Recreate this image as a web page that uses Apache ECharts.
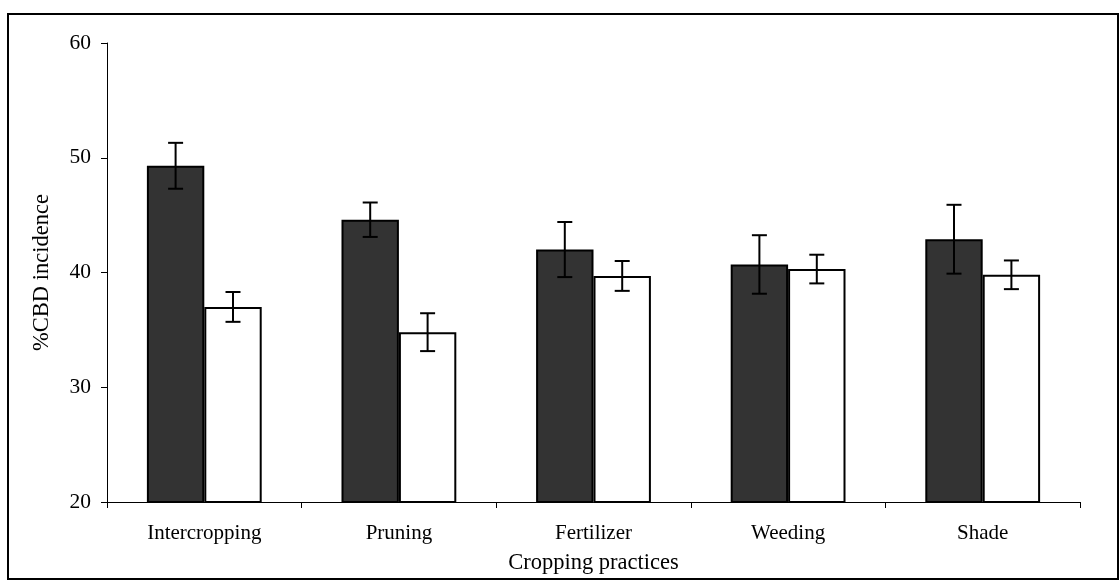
<!DOCTYPE html>
<html>
<head>
<meta charset="utf-8">
<script src="https://cdn.jsdelivr.net/npm/echarts@6/dist/echarts.min.js"></script>
<style>
  html, body { margin: 0; padding: 0; background: #fff; }
  #chart { width: 1120px; height: 580px; }
</style>
</head>
<body>
<div id="chart"></div>
<script>
// Cropping practices and % CBD incidence (two groups, with error bars)
const categories = ['Intercropping', 'Pruning', 'Fertilizer', 'Weeding', 'Shade'];
const darkValues = [49.3, 44.6, 42.0, 40.7, 42.9];
const darkErrors = [2.0, 1.5, 2.4, 2.55, 3.0];
const lightValues = [37.0, 34.8, 39.7, 40.3, 39.8];
const lightErrors = [1.3, 1.65, 1.3, 1.25, 1.25];
const yTicks = [20, 30, 40, 50, 60];

const FONT = '"Liberation Serif", "Times New Roman", serif';
const GAP_RATIO = 0.41;

function errorData(values, errors) {
  return values.map((v, i) => [i, v - errors[i], v + errors[i]]);
}

// draws a vertical whisker with caps, shifted onto the matching bar
function errorRenderer(side) {
  return function (params, api) {
    const idx = api.value(0);
    const band = api.size([1, 0])[0];
    const barW = band * (1 - GAP_RATIO) / 2;
    const low = api.coord([idx, api.value(1)]);
    const high = api.coord([idx, api.value(2)]);
    const x = low[0] + side * barW / 2;
    const cap = 7.5;
    const style = { stroke: '#000', lineWidth: 2, fill: null };
    return {
      type: 'group',
      children: [
        { type: 'line', shape: { x1: x, y1: high[1], x2: x, y2: low[1] }, style },
        { type: 'line', shape: { x1: x - cap, y1: high[1], x2: x + cap, y2: high[1] }, style },
        { type: 'line', shape: { x1: x - cap, y1: low[1], x2: x + cap, y2: low[1] }, style }
      ]
    };
  };
}

const chart = echarts.init(document.getElementById('chart'), null, { renderer: 'canvas' });
chart.setOption({
  backgroundColor: '#fff',
  animation: false,
  textStyle: { fontFamily: FONT, color: '#000' },
  graphic: [{
    type: 'rect',
    shape: { x: 8, y: 14, width: 1110, height: 565 },
    style: { fill: null, stroke: '#000', lineWidth: 2 },
    silent: true
  }],
  grid: { left: 107, right: 40, top: 43, bottom: 76, containLabel: false },
  xAxis: {
    type: 'category',
    data: categories,
    name: 'Cropping practices',
    nameLocation: 'middle',
    nameGap: 50,
    nameTextStyle: { fontFamily: FONT, fontSize: 22.5, color: '#000' },
    axisLine: { lineStyle: { color: '#000', width: 1 } },
    axisTick: { show: true, alignWithLabel: false, length: 6, lineStyle: { color: '#000' } },
    axisLabel: { fontFamily: FONT, fontSize: 21, color: '#000', margin: 21 },
    splitLine: { show: false }
  },
  yAxis: {
    type: 'value',
    min: yTicks[0],
    max: yTicks[yTicks.length - 1],
    interval: yTicks[1] - yTicks[0],
    name: '%CBD incidence',
    nameLocation: 'middle',
    nameRotate: 90,
    nameGap: 53,
    nameTextStyle: { fontFamily: FONT, fontSize: 22.5, color: '#000' },
    axisLine: { show: true, lineStyle: { color: '#000', width: 1 } },
    axisTick: { show: true, length: 6, lineStyle: { color: '#000' } },
    axisLabel: { fontFamily: FONT, fontSize: 21.5, color: '#000', margin: 16 },
    splitLine: { show: false }
  },
  series: [
    {
      type: 'bar',
      data: darkValues,
      barGap: 0,
      barCategoryGap: (GAP_RATIO * 100) + '%',
      itemStyle: { color: '#333333', borderColor: '#000', borderWidth: 2 },
      z: 2
    },
    {
      type: 'bar',
      data: lightValues,
      barGap: 0,
      barCategoryGap: (GAP_RATIO * 100) + '%',
      itemStyle: { color: '#ffffff', borderColor: '#000', borderWidth: 2 },
      z: 2
    },
    {
      type: 'custom',
      renderItem: errorRenderer(-1),
      data: errorData(darkValues, darkErrors),
      encode: { x: 0, y: [1, 2] },
      z: 5
    },
    {
      type: 'custom',
      renderItem: errorRenderer(1),
      data: errorData(lightValues, lightErrors),
      encode: { x: 0, y: [1, 2] },
      z: 5
    }
  ]
});
</script>
</body>
</html>
